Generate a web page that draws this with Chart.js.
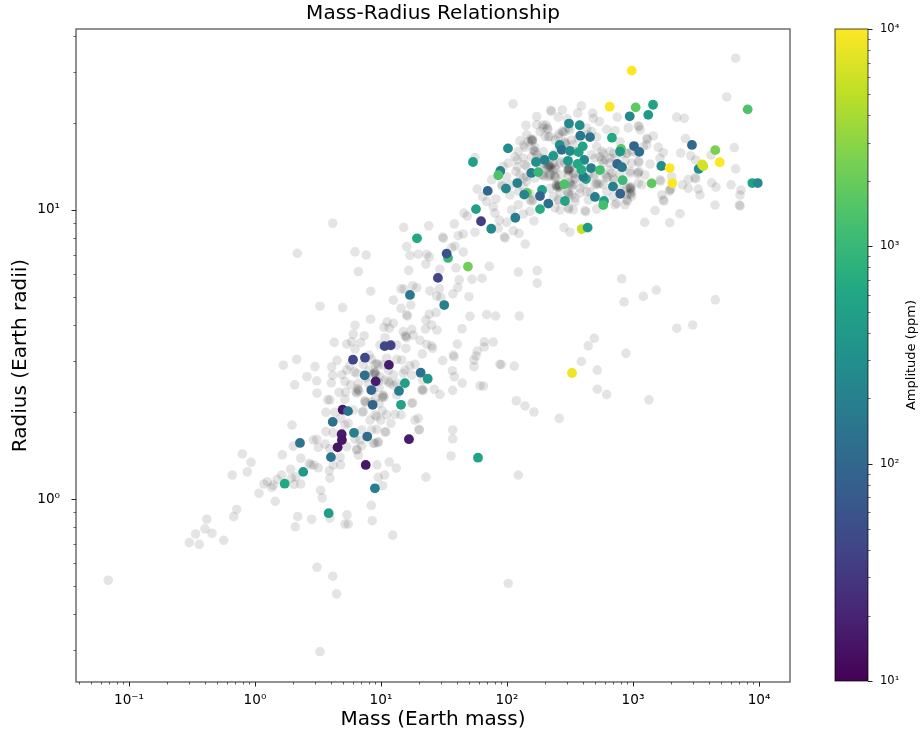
<!DOCTYPE html>
<html><head><meta charset="utf-8">
<script src="https://cdn.jsdelivr.net/npm/chart.js@4/dist/chart.umd.min.js"></script>
<style>html,body{margin:0;padding:0;background:#fff}#w{position:relative;width:922px;height:734px}canvas{position:absolute;top:0}#c1{left:0}#c2{left:800px}</style>
</head><body><div id="w"><canvas id="c1" width="922" height="734"></canvas><canvas id="c2" width="122" height="734"></canvas></div>
<script>
// All readings are [log10 mass, log10 radius]
const graySparseLow=[[-1.164,-.281],[-.145,-.036],[-.169,-.061],[-.383,-.070],[-.397,-.103],[-.471,-.121],[-.341,-.119],[-.521,-.151],[-.442,-.157],[-.248,-.143],[.339,-.061],[.320,-.096],[.450,-.070],[.595,-.066],[.730,-.055],[.714,-.087],[.740,-.087],[.923,-.022],[.931,-.075],[.492,-.236],[.617,-.267],[.648,-.328],[.516,-.528],[1.093,-.125],[2.010,-.292],[2.090,.083],[1.357,.076],[1.569,.208],[1.556,.149],[1.569,.239],[1.304,.239],[-.101,.156],[-.032,.127],[-.061,.094],[-.180,.083],[.032,.020],[.161,-.008],[.098,.060],[.145,.048],[.133,.040],[.071,.052],[.212,.083],[.177,.068],[.283,.103],[.325,.077],[.291,.072],[.310,.051],[.363,.052],[.431,.124],[.468,.117],[.502,.108],[.444,.118],[.363,.141],[.217,.153],[.304,.183],[.294,.256],[.521,.030],[.534,.004],[.590,.098],[.595,.072],[.621,.118],[.680,.118],[.675,.144],[.968,.118],[1.066,.128],[1.121,.107],[1.029,.083],[.979,.075],[1.013,.046]];
const graySuperEarths=[[.490,.207],[.463,.204],[.556,.190],[.502,.179],[.595,.175],[.728,.181],[.833,.204],[.794,.207],[.847,.184],[.952,.193],[.979,.198],[.975,.195],[.939,.193],[.807,.170],[.810,.172],[.820,.152],[1.037,.231],[.563,.233],[.621,.229],[.847,.239],[.926,.239],[.966,.241],[1.034,.233],[.680,.279],[.740,.262],[.714,.256],[.966,.285],[1.045,.291],[1.111,.293],[1.159,.291],[.998,.273],[.913,.273],[1.079,.262],[1.270,.273],[1.296,.279],[1.302,.241],[.563,.300],[.635,.300],[.780,.308],[.852,.301],[.577,.343],[.595,.343],[.714,.345],[.873,.337],[.880,.333],[1.018,.356],[1.025,.352],[1.010,.352],[.802,.371],[.808,.366],[.667,.369],[.492,.366],[.606,.402],[.714,.406],[.490,.409],[.315,.395],[1.071,.400],[1.336,.375],[1.423,.380],[1.468,.362],[1.252,.333],[1.323,.377],[1.330,.380],[1.569,.376],[.413,.423],[.617,.428],[.807,.435],[.820,.400],[.952,.466],[.947,.437],[.955,.440],[.940,.432],[.992,.423],[1.098,.394],[1.177,.394],[1.331,.412],[1.177,.435],[1.190,.446],[1.230,.461],[1.270,.466],[1.566,.444],[1.582,.423],[1.645,.401],[1.786,.392],[1.813,.391],[1.944,.466],[1.955,.465],[2.058,.460],[2.074,.340],[2.143,.322],[2.214,.301],[2.415,.279],[2.717,.380],[2.791,.361],[3.127,.343],[.225,.463],[.331,.483],[.476,.458],[.651,.480],[.609,.457],[.728,.446],[.754,.461],[.907,.498],[.926,.483],[.979,.464],[1.045,.487],[1.125,.483],[1.164,.481],[1.328,.502],[1.490,.479],[1.574,.498],[1.580,.492],[1.738,.458],[1.738,.481],[1.754,.495],[1.764,.512],[1.820,.526],[1.820,.544],[1.891,.543]];
const graySuperEarthCore=[[.966,.469],[.952,.435],[.958,.431],[1.018,.464],[1.244,.429],[.820,.377],[.826,.373],[.814,.381],[.873,.340],[1.018,.360],[.939,.377],[.979,.406],[1.058,.406],[1.125,.400],[1.244,.331],[.860,.302],[.952,.291],[1.125,.360],[1.098,.429],[1.032,.412],[.899,.400],[.880,.420],[.905,.445],[.860,.465],[.790,.440],[.760,.395],[.690,.430],[.720,.370],[.955,.350],[.985,.385],[1.060,.445],[1.010,.305],[.925,.335],[.985,.330]];
const grayMiddle=[[1.606,.536],[1.363,.535],[1.402,.530],[1.410,.521],[1.310,.549],[1.198,.521],[.992,.533],[1.125,.533],[1.032,.558],[.794,.519],[.767,.544],[.728,.536],[.839,.541],[.629,.542],[.780,.570],[.867,.565],[.794,.601],[.918,.622],[1.048,.613],[1.098,.608],[1.024,.594],[1.066,.591],[1.244,.587],[1.177,.579],[1.256,.567],[1.198,.562],[1.204,.558],[1.192,.565],[1.357,.619],[1.402,.602],[1.352,.588],[1.444,.584],[1.643,.589],[1.706,.632],[1.839,.638],[1.910,.633],[2.098,.633],[1.204,.637],[1.210,.633],[1.383,.639],[1.437,.645],[1.159,.660],[1.236,.671],[1.098,.688],[.516,.667],[.696,.662],[1.442,.702],[1.476,.697],[1.698,.700],[.918,.719],[1.159,.727],[1.183,.726],[1.252,.738],[1.283,.731],[1.389,.720],[1.463,.727],[1.609,.731],[1.571,.710],[1.621,.758],[1.722,.760],[1.802,.764],[1.220,.791],[1.468,.795],[1.595,.800],[1.357,.813],[1.860,.805],[2.090,.785],[2.240,.790],[2.240,.747],[2.910,.762],[2.929,.682],[3.082,.701],[3.185,.723],[3.653,.689],[3.347,.591],[3.474,.602],[2.693,.556],[2.645,.530],[2.944,.504],[2.590,.476],[2.717,.446],[.820,.787],[.336,.850],[.794,.855],[.883,.844],[1.230,.843],[1.296,.847],[1.363,.847],[1.383,.838],[1.653,.854],[1.561,.870],[1.587,.875],[1.204,.873],[1.490,.906],[1.495,.902],[1.613,.911],[1.653,.917],[1.746,.923],[1.180,.940],[1.379,.945],[1.582,.952],[.617,.954],[1.659,.989],[1.685,.979]];
const grayGiantsOuter=[[3.815,1.525],[3.744,1.391],[2.048,1.367],[2.347,1.345],[2.352,1.341],[2.236,1.323],[2.439,1.346],[2.407,1.321],[2.479,1.315],[2.590,1.360],[2.561,1.335],[2.680,1.335],[2.685,1.317],[2.733,1.306],[2.875,1.321],[3.347,1.321],[3.407,1.317],[2.151,1.293],[3.042,1.291],[3.048,1.288],[3.056,1.277],[3.109,1.248],[3.115,1.244],[3.161,1.256],[3.201,1.217],[3.240,1.198],[3.214,1.179],[3.109,1.225],[3.417,1.247],[3.379,1.197],[3.458,1.187],[3.498,1.173],[3.619,1.190],[3.804,1.216],[3.815,1.142],[3.135,1.159],[3.048,1.165],[3.042,1.129],[3.048,1.133],[3.036,1.125],[3.095,1.121],[3.214,1.104],[3.220,1.100],[3.307,1.115],[3.294,1.069],[3.300,1.073],[3.288,1.065],[3.240,1.035],[3.246,1.031],[3.175,.998],[3.228,1.052],[3.492,1.112],[3.498,1.108],[3.439,1.106],[3.394,1.087],[3.439,1.075],[3.518,1.072],[3.532,1.052],[3.625,1.094],[3.659,1.079],[3.778,1.087],[3.651,1.017],[3.857,1.069],[3.849,1.052],[3.844,1.017],[3.850,1.014],[3.373,.987],[3.291,.956],[3.093,.957],[2.452,.939],[2.5,.923],[2.145,.882],[1.979,.907],[1.985,.903],[2.095,.919],[2.050,.928],[1.931,.937],[1.905,.989],[1.891,1.011],[1.839,1.029],[1.807,1.046],[1.913,1.038],[1.998,.957],[1.939,.965],[2.037,1.000],[2.129,.986],[2.214,.962],[2.183,1.035],[2.024,1.052],[1.746,1.181],[1.879,1.104],[1.998,1.115],[1.958,1.087],[1.964,1.083],[2.129,1.110],[1.764,1.072]];
const grayGiantsCore=[[2.310,1.294],[2.288,1.283],[2.302,1.254],[2.196,1.242],[2.202,1.238],[2.190,1.246],[2.156,1.260],[2.103,1.239],[2.135,1.225],[2.209,1.208],[2.215,1.204],[2.236,1.190],[2.413,1.263],[2.460,1.271],[2.5,1.277],[2.633,1.283],[2.645,1.260],[2.791,1.279],[2.712,1.252],[2.897,1.236],[2.955,1.196],[2.844,1.196],[2.778,1.173],[2.817,1.162],[2.738,1.184],[2.082,1.173],[2.082,1.150],[2.010,1.162],[2.071,1.133],[1.971,1.150],[2.341,1.150],[2.347,1.146],[2.335,1.154],[2.350,1.156],[2.487,1.138],[2.493,1.134],[2.481,1.142],[2.496,1.144],[2.381,1.115],[2.387,1.111],[2.375,1.119],[2.288,1.121],[2.294,1.117],[2.526,1.127],[2.532,1.123],[2.421,1.162],[2.394,1.081],[2.400,1.077],[2.388,1.085],[2.5,1.092],[2.506,1.088],[2.494,1.096],[2.487,1.058],[2.493,1.054],[2.481,1.062],[2.712,1.092],[2.718,1.088],[2.633,1.063],[2.791,1.115],[2.797,1.111],[2.844,1.110],[2.850,1.106],[2.976,1.075],[2.982,1.071],[2.970,1.079],[3.069,1.087],[2.976,1.058],[2.982,1.054],[2.950,1.035],[2.956,1.031],[2.870,1.023],[2.526,1.000],[2.619,.998],[2.625,.994],[2.421,1.000],[2.712,1.003],[2.328,1.253],[2.407,1.253],[2.487,1.284],[2.222,1.203],[2.090,1.203],[2.236,1.295],[2.963,1.284],[2.752,1.203],[2.672,1.191],[2.990,1.203],[2.976,1.134],[2.937,1.169],[2.381,1.145],[2.387,1.141],[2.328,1.157],[2.487,1.139],[2.421,1.169],[2.645,1.122],[2.698,1.122],[2.778,1.122],[2.831,1.128],[2.341,1.122],[2.347,1.118],[2.275,1.122],[2.407,1.088],[2.413,1.084],[2.513,1.082],[2.540,1.111],[2.546,1.107],[2.606,1.088],[2.698,1.088],[2.764,1.088],[3.042,1.093],[2.990,1.047],[2.937,1.018],[2.857,1.018],[2.540,1.042],[2.407,1.036],[2.413,1.032],[2.196,1.030],[2.156,1.099],[2.090,1.065],[2.090,1.018],[2.381,1.007],[2.183,.995],[2.540,1.203],[2.566,1.249],[2.857,1.274],[2.460,1.232],[2.466,1.228],[2.262,1.180],[2.268,1.176],[2.143,1.157]];
const grayGiantsDense=[[2.286,1.294],[2.262,1.271],[2.169,1.236],[2.222,1.217],[2.143,1.217],[2.341,1.254],[2.381,1.242],[2.460,1.236],[2.513,1.242],[2.526,1.225],[2.672,1.271],[2.712,1.219],[2.764,1.196],[2.817,1.202],[2.857,1.179],[2.950,1.196],[3.029,1.196],[3.082,1.219],[2.698,1.179],[2.764,1.162],[2.817,1.138],[2.897,1.127],[2.976,1.127],[2.685,1.115],[2.738,1.092],[2.897,1.075],[2.950,1.075],[2.990,1.063],[2.950,1.052],[2.844,1.046],[2.791,1.063],[2.659,1.063],[2.579,1.075],[2.526,1.087],[2.394,1.087],[2.341,1.075],[2.328,1.115],[2.367,1.138],[2.314,1.144],[2.262,1.150],[2.222,1.110],[2.156,1.115],[2.156,1.150],[2.103,1.121],[2.024,1.087],[2.129,1.081],[2.183,1.058],[2.209,1.035],[2.367,1.046],[2.421,1.063],[2.513,1.052],[2.540,1.029],[2.487,1.007],[2.492,1.003],[2.579,1.058],[2.645,1.035],[2.434,1.121],[2.487,1.121],[2.460,1.162],[2.526,1.156],[2.367,1.162],[2.288,1.162],[2.381,1.196],[2.288,1.202],[2.196,1.184],[2.129,1.179],[2.063,1.184],[2.752,1.173],[2.817,1.179],[2.910,1.196],[3.042,1.167],[2.990,1.162],[2.49,1.14],[2.495,1.145],[2.33,1.146],[2.325,1.150],[2.41,1.083],[2.415,1.079],[2.98,1.076],[2.985,1.080],[2.20,1.24],[2.205,1.244],[2.32,1.283],[2.325,1.279],[2.44,1.273],[2.445,1.269]];
// [log10 mass, log10 radius, amplitude in ppm]
const detectedPlanets=[[2.990,1.482,10000],[2.815,1.357,10000],[3.021,1.355,1800],[3.159,1.364,550],[2.974,1.324,250],[3.121,1.329,400],[3.910,1.348,1400],[2.492,1.299,250],[2.577,1.293,300],[2.582,1.257,160],[2.659,1.252,150],[2.833,1.250,630],[2.008,1.213,280],[2.418,1.225,320],[2.434,1.208,125],[2.5,1.204,280],[2.601,1.220,550],[2.569,1.200,500],[3.008,1.221,90],[3.050,1.201,125],[2.905,1.211,1800],[2.897,1.202,400],[3.468,1.225,110],[3.653,1.207,2500],[1.730,1.166,500],[2.230,1.166,300],[2.299,1.173,200],[2.367,1.187,400],[2.484,1.170,400],[2.613,1.173,250],[2.875,1.159,100],[2.913,1.148,160],[2.667,1.145,200],[2.738,1.138,1250],[1.947,1.135,200],[1.931,1.120,1400],[2.193,1.128,180],[2.248,1.131,1000],[2.627,1.107,550],[2.606,1.115,160],[2.561,1.159,630],[2.590,1.139,700],[3.225,1.152,280],[3.291,1.145,10000],[3.688,1.165,10000],[3.521,1.142,280],[3.548,1.158,7000],[3.558,1.152,6300],[2.082,1.093,200],[1.847,1.066,100],[1.992,1.074,250],[2.159,1.059,1800],[2.137,1.053,220],[2.278,1.069,500],[2.262,1.048,90],[2.455,1.089,1400],[2.918,1.103,1100],[2.841,1.081,200],[3.148,1.092,1800],[3.312,1.093,10000],[3.947,1.093,550],[3.990,1.093,250],[2.328,1.022,125],[2.460,1.031,550],[2.262,1.003,700],[2.698,1.045,200],[2.770,1.031,500],[2.764,1.017,1250],[2.899,1.056,90],[1.754,1.003,500],[1.794,.961,35],[2.066,.973,180],[1.875,.935,250],[2.593,.934,5500],[2.640,.939,400],[1.286,.902,630],[1.532,.834,1000],[1.521,.849,60],[1.690,.804,2200],[1.452,.765,42],[1.230,.706,160],[1.502,.671,200],[1.029,.529,45],[1.077,.532,40],[.778,.482,40],[.873,.489,45],[1.063,.464,17],[.871,.428,125],[.958,.407,17],[1.315,.437,130],[1.371,.416,400],[1.190,.401,500],[.923,.377,100],[1.143,.374,180],[2.516,.436,8500],[.934,.326,90],[1.159,.326,530],[.696,.309,15],[.738,.304,140],[.617,.267,125],[.688,.224,17],[.690,.204,15],[.786,.229,200],[.891,.216,110],[1.222,.207,17],[.656,.179,15],[.357,.194,150],[.603,.145,140],[.879,.118,15],[.383,.094,400],[.236,.053,630],[.952,.037,180],[.585,-.049,450],[1.770,.143,550]];
const xExponents=[-2,-1,0,1,2,3,4];
const yExponents=[-1,0,1];
const ampExponents=[1,2,3];
const viridis=['#440154','#482475','#414487','#355f8d','#2a788e','#21918c','#22a884','#44bf70','#7ad151','#bddf26','#fde725'];
const xRange=[0.038,17620], yRange=[0.2328,42.27], ampRange=[10,10000];
const sup={'-':'⁻','0':'⁰','1':'¹','2':'²','3':'³','4':'⁴'};
const power=e=>'10'+String(e).split('').map(c=>sup[c]).join('');
function hexRgb(h){return [1,3,5].map(i=>parseInt(h.slice(i,i+2),16));}
function ampColor(a){const t=Math.min(1,Math.max(0,(Math.log10(a)-1)/3))*10;const i=Math.min(9,Math.floor(t)),f=t-i;const A=hexRgb(viridis[i]),B=hexRgb(viridis[i+1]);return `rgb(${A.map((v,k)=>Math.round(v+(B[k]-v)*f)).join(',')})`;}
function logTicks(exps,range){return function(scale){const out=[];for(const e of exps){for(let m=1;m<=9;m++){const value=m*Math.pow(10,e);if(value>=range[0]&&value<=range[1])out.push({value,major:m===1,exp:e});}}
 const last=exps[exps.length-1]+1,v=Math.pow(10,last);if(v<=range[1])out.push({value:v,major:true,exp:last});scale.ticks=out;};}
const tickLabel=(v,i,t)=>t[i]&&t[i].major?power(t[i].exp):'';
const frame={id:'frame',afterDraw(chart){const c=chart.ctx,a=chart.chartArea;c.save();
 if(chart.canvas.id==='c1'){c.strokeStyle='#6e6e6e';c.lineWidth=1.5;}else{c.strokeStyle='rgba(0,0,0,.7)';c.lineWidth=1;}
 c.strokeRect(a.left,a.top,a.right-a.left,a.bottom-a.top);
 c.strokeStyle='#222';
 for(const s of Object.values(chart.scales)){if(!s.options.display)continue;for(const t of s.ticks){const p=Math.round(s.getPixelForValue(t.value))+.5,L=t.major?4.5:2.5;c.lineWidth=t.major?1:.7;c.beginPath();
  if(s.axis==='x'){c.moveTo(p,s.top);c.lineTo(p,s.top+L);}else if(s.position==='left'){c.moveTo(s.right,p);c.lineTo(s.right-L,p);}else{c.moveTo(s.left,p);c.lineTo(s.left+L,p);}c.stroke();}}
 c.restore();}};
const grayAll=[...graySparseLow,...graySuperEarths,...graySuperEarthCore,...grayMiddle,...grayGiantsOuter,...grayGiantsCore,...grayGiantsDense];
const pt=p=>({x:Math.pow(10,p[0]),y:Math.pow(10,p[1])});
new Chart(document.getElementById('c1'),{type:'scatter',plugins:[frame],data:{datasets:[
 {label:'Detected',order:0,data:detectedPlanets.map(pt),backgroundColor:detectedPlanets.map(p=>ampColor(p[2])),borderWidth:0,pointRadius:4.9,pointHoverRadius:4.9},
 {label:'All planets',order:1,data:grayAll.map(pt),backgroundColor:'rgba(0,0,0,0.105)',borderWidth:0,pointRadius:4.8,pointHoverRadius:4.8}]},
 options:{responsive:false,animation:false,layout:{padding:{right:132,left:0,top:0,bottom:0}},
 plugins:{legend:{display:false},tooltip:{enabled:false},title:{display:true,text:'Mass-Radius Relationship',fullSize:false,color:'#000',font:{family:'DejaVu Sans',size:20,weight:'normal',lineHeight:1.2},padding:{top:2,bottom:3}}},
 scales:{
 x:{type:'logarithmic',min:xRange[0],max:xRange[1],grid:{display:false},border:{display:false},afterBuildTicks:logTicks(xExponents,xRange),afterFit(s){s.height=52;},
  ticks:{callback:tickLabel,autoSkip:false,maxRotation:0,minRotation:0,padding:2,color:'#000',font:{family:'DejaVu Sans',size:13.6}},
  title:{display:true,text:'Mass (Earth mass)',color:'#000',font:{family:'DejaVu Sans',size:20,weight:'normal'},padding:{top:0,bottom:2}}},
 y:{type:'logarithmic',min:yRange[0],max:yRange[1],grid:{display:false},border:{display:false},afterBuildTicks:logTicks(yExponents,yRange),afterFit(s){s.width=76;},
  ticks:{callback:tickLabel,autoSkip:false,padding:8,color:'#000',font:{family:'DejaVu Sans',size:13.6}},
  title:{display:true,text:'Radius (Earth radii)',color:'#000',font:{family:'DejaVu Sans',size:20,weight:'normal'},padding:{top:9,bottom:0}}}
 }}});
const ampTitle={id:'ampTitle',afterDraw(chart){const c=chart.ctx;c.save();c.translate(112,355);c.rotate(-Math.PI/2);c.font='13px "DejaVu Sans"';c.fillStyle='#000';c.textAlign='center';c.textBaseline='middle';c.fillText('Amplitude (ppm)',0,0);c.restore();}};
new Chart(document.getElementById('c2'),{type:'bar',plugins:[frame,ampTitle],data:{labels:['Amplitude'],datasets:[{data:[[ampRange[0],ampRange[1]]],barPercentage:1,categoryPercentage:1,borderWidth:0,
 backgroundColor(ctx){const a=ctx.chart.chartArea;if(!a)return viridis[5];const g=ctx.chart.ctx.createLinearGradient(0,a.bottom,0,a.top);viridis.forEach((h,i)=>g.addColorStop(i/10,h));return g;}}]},
 options:{responsive:false,animation:false,layout:{padding:{left:35,top:29,bottom:53,right:0}},plugins:{legend:{display:false},tooltip:{enabled:false},title:{display:false}},
 scales:{x:{display:false},y:{type:'logarithmic',position:'right',min:ampRange[0],max:ampRange[1],grid:{display:false},border:{display:false},afterBuildTicks:logTicks(ampExponents,ampRange),afterFit(s){s.width=54;},
  ticks:{callback:tickLabel,autoSkip:false,padding:4,color:'#000',font:{family:'DejaVu Sans',size:11.5}}}}}});
</script></body></html>
